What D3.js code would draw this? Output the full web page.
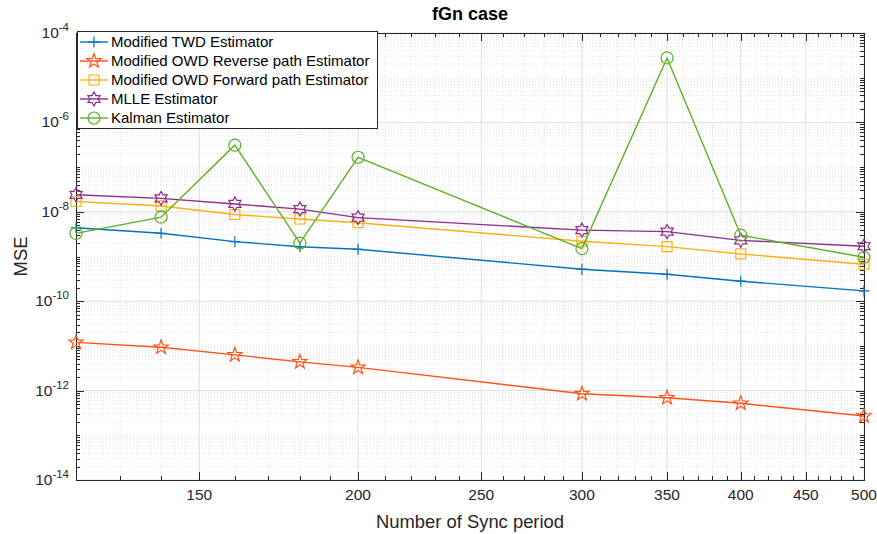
<!DOCTYPE html>
<html>
<head>
<meta charset="utf-8">
<script src="https://cdn.jsdelivr.net/npm/d3@7"></script>
<style>
  body { margin: 0; background: #fff; }
  svg { font-family: "Liberation Sans", Arial, sans-serif; }
</style>
</head>
<body>
<svg id="chart" width="877" height="534"></svg>
<script>
// sync periods (x) and MSE per estimator
const syncPeriods = [120, 140, 160, 180, 200, 300, 350, 400, 500];
const twdMse = [4.4e-9, 3.3e-9, 2.15e-9, 1.65e-9, 1.45e-9, 5.2e-10, 4.0e-10, 2.8e-10, 1.7e-10];
const owdReverseMse = [1.2e-11, 9.3e-12, 6.3e-12, 4.4e-12, 3.3e-12, 8.5e-13, 6.9e-13, 5.2e-13, 2.7e-13];
const owdForwardMse = [1.7e-8, 1.35e-8, 8.7e-9, 6.9e-9, 5.7e-9, 2.2e-9, 1.66e-9, 1.14e-9, 6.7e-10];
const mlleMse = [2.4e-8, 2.0e-8, 1.5e-8, 1.15e-8, 7.4e-9, 3.9e-9, 3.6e-9, 2.3e-9, 1.7e-9];
const kalmanMse = [3.3e-9, 7.6e-9, 3.1e-7, 2.0e-9, 1.66e-7, 1.5e-9, 2.77e-5, 3.0e-9, 9.6e-10];

const seriesNames = [
  "Modified TWD Estimator",
  "Modified OWD Reverse path Estimator",
  "Modified OWD Forward path Estimator",
  "MLLE Estimator",
  "Kalman Estimator",
];
const seriesColors = ["#0072BD", "#FF5319", "#FDB010", "#8E2C90", "#5DAE25"];
const seriesMarkers = ["plus", "pentagram", "square", "hexagram", "circle"];
const seriesValues = [twdMse, owdReverseMse, owdForwardMse, mlleMse, kalmanMse];

const xMajorTicks = [150, 200, 250, 300, 350, 400, 450, 500];
const yExponents = [-14, -12, -10, -8, -6, -4];

const margin = { left: 76, right: 13, top: 33, bottom: 54 };
const width = 877, height = 534;
const svg = d3.select("#chart");

const x = d3.scaleLog().domain([120, 500]).range([margin.left, width - margin.right]);
const y = d3.scaleLog().domain([1e-14, 1e-4]).range([height - margin.bottom, margin.top]);
const [x0, x1] = x.range();
const [y0, y1] = y.range();

// minor ticks: every 10 on x, every k*10^n on y
const xMinorTicks = d3.range(130, 500, 10).filter((v) => !xMajorTicks.includes(v));
const yMajorTicks = yExponents.map((e) => Math.pow(10, e));
const yMinorTicks = [];
for (let e = -14; e < -4; e++) {
  for (let k = 1; k <= 9; k++) {
    const v = k * Math.pow(10, e);
    if (!(k === 1 && e % 2 === 0)) yMinorTicks.push(v);
  }
}

/* grid */
const grid = svg.append("g").attr("class", "grid");
grid.selectAll(".xminor").data(xMinorTicks).join("line")
  .attr("x1", (d) => x(d)).attr("x2", (d) => x(d)).attr("y1", y0).attr("y2", y1)
  .attr("stroke", "#d4d4d4").attr("stroke-width", 0.7).attr("stroke-dasharray", "1,2");
grid.selectAll(".yminor").data(yMinorTicks).join("line")
  .attr("y1", (d) => y(d)).attr("y2", (d) => y(d)).attr("x1", x0).attr("x2", x1)
  .attr("stroke", "#d4d4d4").attr("stroke-width", 0.7).attr("stroke-dasharray", "1,2");
grid.selectAll(".xmajor").data(xMajorTicks).join("line")
  .attr("x1", (d) => x(d)).attr("x2", (d) => x(d)).attr("y1", y0).attr("y2", y1)
  .attr("stroke", "#dedede").attr("stroke-width", 1);
grid.selectAll(".ymajor").data(yMajorTicks).join("line")
  .attr("y1", (d) => y(d)).attr("y2", (d) => y(d)).attr("x1", x0).attr("x2", x1)
  .attr("stroke", "#dedede").attr("stroke-width", 1);

/* axes box with inward ticks on all four sides */
const axes = svg.append("g").attr("class", "axes").attr("stroke", "#262626");
const tickLines = (data, scale, horizontal, len) => {
  data.forEach((v) => {
    const p = Math.round(scale(v)) + 0.5;
    if (horizontal) {
      axes.append("line").attr("x1", p).attr("x2", p).attr("y1", y0).attr("y2", y0 - len);
      axes.append("line").attr("x1", p).attr("x2", p).attr("y1", y1).attr("y2", y1 + len);
    } else {
      axes.append("line").attr("y1", p).attr("y2", p).attr("x1", x0).attr("x2", x0 + len);
      axes.append("line").attr("y1", p).attr("y2", p).attr("x1", x1).attr("x2", x1 - len);
    }
  });
};
tickLines(xMajorTicks, x, true, 8);
tickLines(xMinorTicks, x, true, 4);
tickLines(yMajorTicks, y, false, 8);
tickLines(yMinorTicks, y, false, 4);
axes.append("rect")
  .attr("x", x0 + 0.5).attr("y", y1 + 0.5)
  .attr("width", x1 - x0).attr("height", y0 - y1)
  .attr("fill", "none").attr("stroke-width", 1);

/* tick labels */
svg.append("g").selectAll("text").data(xMajorTicks).join("text")
  .attr("x", (d) => x(d)).attr("y", y0 + 20)
  .attr("text-anchor", "middle").attr("font-size", 15.5).attr("fill", "#262626")
  .text((d) => d);
const yLabels = svg.append("g").selectAll("text").data(yExponents).join("text")
  .attr("x", x0 - 7).attr("y", (d) => y(Math.pow(10, d)) + 5)
  .attr("text-anchor", "end").attr("font-size", 15.5).attr("fill", "#262626");
yLabels.append("tspan").text("10");
yLabels.append("tspan").attr("dy", -7).attr("font-size", 11.5).text((d) => d);

/* titles */
svg.append("text").attr("x", (x0 + x1) / 2).attr("y", 20)
  .attr("text-anchor", "middle").attr("font-size", 18).attr("font-weight", "bold")
  .attr("fill", "#000").text("fGn case");
svg.append("text").attr("x", (x0 + x1) / 2).attr("y", 528)
  .attr("text-anchor", "middle").attr("font-size", 18.4).attr("fill", "#262626")
  .text("Number of Sync period");
svg.append("text").attr("transform", `translate(27,${(y0 + y1) / 2}) rotate(-90)`)
  .attr("text-anchor", "middle").attr("font-size", 18.4).attr("fill", "#262626")
  .text("MSE");

/* marker shapes */
const starPath = (points, rOut, rIn) => {
  const pts = [];
  for (let i = 0; i < points * 2; i++) {
    const r = i % 2 === 0 ? rOut : rIn;
    const a = -Math.PI / 2 + (i * Math.PI) / points;
    pts.push([r * Math.cos(a), r * Math.sin(a)]);
  }
  return "M" + pts.map((p) => p.join(",")).join("L") + "Z";
};
const markerPath = (type) => {
  if (type === "plus") return "M-5.5,0H5.5M0,-5.5V5.5";
  if (type === "square") return "M-5,-5H5V5H-5Z";
  if (type === "circle") return "M6,0A6,6 0 1,1 -6,0A6,6 0 1,1 6,0Z";
  if (type === "pentagram") return starPath(5, 7.5, 3);
  if (type === "hexagram") return starPath(6, 7, 4);
};

/* series */
const line = d3.line().x((d) => x(d[0])).y((d) => y(d[1]));
const plot = svg.append("g").attr("class", "series");
seriesValues.forEach((vals, i) => {
  const pts = syncPeriods.map((p, j) => [p, vals[j]]);
  const g = plot.append("g");
  g.append("path").attr("d", line(pts)).attr("fill", "none")
    .attr("stroke", seriesColors[i]).attr("stroke-width", 1.4);
  g.selectAll("path.m").data(pts).join("path").attr("class", "m")
    .attr("transform", (d) => `translate(${x(d[0])},${y(d[1])})`)
    .attr("d", markerPath(seriesMarkers[i]))
    .attr("fill", "none").attr("stroke", seriesColors[i]).attr("stroke-width", 1.2);
});

/* legend */
const legend = svg.append("g").attr("class", "legend");
legend.append("rect").attr("x", 77.5).attr("y", 31.5).attr("width", 300).attr("height", 97)
  .attr("fill", "#fff").attr("stroke", "#262626").attr("stroke-width", 1);
seriesNames.forEach((name, i) => {
  const ly = 42 + i * 19;
  legend.append("line").attr("x1", 80).attr("x2", 108).attr("y1", ly).attr("y2", ly)
    .attr("stroke", seriesColors[i]).attr("stroke-width", 1.4);
  legend.append("path").attr("transform", `translate(94,${ly})`)
    .attr("d", markerPath(seriesMarkers[i]))
    .attr("fill", "none").attr("stroke", seriesColors[i]).attr("stroke-width", 1.2);
  legend.append("text").attr("x", 111).attr("y", ly + 5).attr("font-size", 15)
    .attr("fill", "#000").text(name);
});
</script>
</body>
</html>
